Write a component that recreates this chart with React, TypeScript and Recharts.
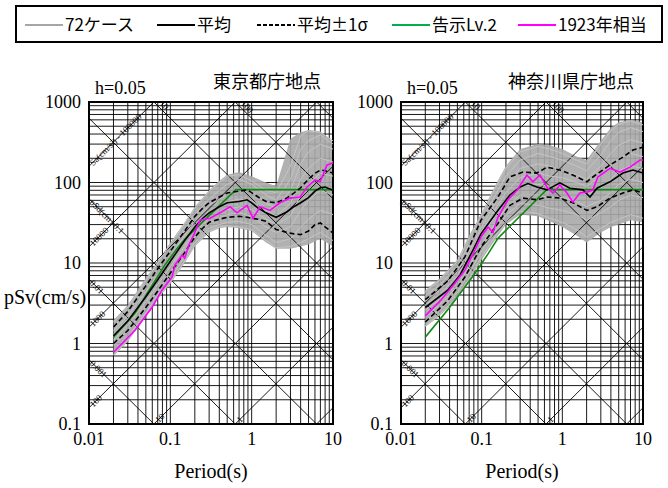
import React from 'react';
import { ComposedChart, Line, Area, XAxis, YAxis, CartesianGrid, ReferenceArea, ReferenceDot } from 'recharts';

const fontCss = `
#root svg text.sf, #root svg text.sf tspan { font-family: "Liberation Serif", "Times New Roman", serif !important; }
#root svg text.jp { font-family: "Noto Sans CJK JP", sans-serif !important; }
`;

// log grid ticks
const mult = [1, 2, 3, 4, 5, 6, 7, 8, 9];
const xDecades = [0.01, 0.1, 1, 10];
const yDecades = [0.1, 1, 10, 100, 1000];
const xTickLabels = ['0.01', '0.1', '1', '10'];
const yTickLabels = ['0.1', '1', '10', '100', '1000'];
const xTicks = [...xDecades.slice(0, -1).flatMap((d) => mult.map((m) => +(m * d).toPrecision(3))), 10];
const yTicks = [...yDecades.slice(0, -1).flatMap((d) => mult.map((m) => +(m * d).toPrecision(3))), 1000];

// tripartite diagonals (Sa in cm/s2, Sd in cm)
const saValues = [0.1, 1, 10, 100, 1000, 10000, 100000];
const sdValues = [0.001, 0.01, 0.1, 1, 10, 100, 1000];
const saEdgeLabels = [
  { sa: 100000, text: 'Sa(cm/s²) - 100000' },
  { sa: 10000, text: '10000' },
  { sa: 1000, text: '1000' },
  { sa: 100, text: '100' },
];
const sdEdgeLabels = [
  { sd: 0.1, text: 'pSd(cm)  0.1' },
  { sd: 0.01, text: '0.01' },
  { sd: 0.001, text: '0.001' },
];
const saBottomLabels = [
  { sa: 10, text: '10' },
  { sa: 1, text: '1' },
];
const sdTopLabels = [
  { sd: 10, text: '10' },
  { sd: 100, text: '100' },
];

// 東京都庁地点
const tokyoCaseT = [0.02, 0.03, 0.05, 0.07, 0.1, 0.15, 0.2, 0.3, 0.4, 0.5, 0.7, 1, 1.5, 2, 3, 4, 5, 7, 10];
const tokyoCases = [
  [1.85, 2.8, 6.0, 10, 17, 31, 48, 78, 100, 120, 125, 105, 80, 75, 160, 380, 440, 420, 330],
  [1.6, 2.45, 5.0, 8.4, 14, 26, 40, 62, 80, 95, 110, 95, 70, 60, 110, 260, 330, 390, 300],
  [1.45, 2.2, 4.4, 7.2, 12, 22, 33, 52, 62, 72, 82, 78, 55, 48, 80, 170, 240, 300, 260],
  [1.3, 2.0, 3.9, 6.4, 10.5, 19, 29, 44, 50, 58, 62, 60, 45, 38, 55, 110, 150, 200, 180],
  [1.1, 1.7, 3.3, 5.4, 9, 16, 24, 36, 42, 46, 50, 46, 35, 30, 38, 70, 95, 130, 120],
  [0.95, 1.45, 2.8, 4.6, 7.6, 14, 21, 31, 36, 40, 42, 38, 28, 24, 28, 45, 60, 80, 70],
  [0.8, 1.2, 2.4, 4.0, 6.4, 12, 18, 27, 30, 32, 33, 30, 22, 18, 20, 28, 35, 45, 40],
  [0.72, 1.1, 2.25, 3.7, 5.8, 10.5, 16.5, 25, 28, 29, 28, 26, 19, 15.5, 16, 18, 20, 24, 19],
];
const tokyoLow = [0.7, 1.05, 2.2, 3.6, 5.5, 10, 16, 24, 27, 28, 27, 25, 18, 15, 15, 16, 17, 20, 16];
const tokyoHigh = [1.95, 3.0, 6.5, 10.5, 18, 32, 50, 80, 105, 125, 135, 120, 100, 90, 350, 420, 450, 430, 320];
const tokyoStatT = [0.02, 0.03, 0.05, 0.07, 0.1, 0.15, 0.2, 0.25, 0.3, 0.4, 0.5, 0.7, 0.88, 1.0, 1.2, 1.5, 2, 2.7, 3.3, 4, 5, 6, 7, 8, 10];
const tokyoMean = [1.25, 1.9, 3.8, 6.2, 10.5, 19, 28, 36, 42, 50, 56, 58, 61, 56, 48, 42, 37, 43, 50, 56, 65, 78, 86, 88, 80];
const tokyoUpper = [1.6, 2.5, 5.2, 8.5, 14, 25, 38, 48, 56, 66, 74, 78, 81, 75, 66, 58, 56, 64, 74, 86, 110, 130, 143, 140, 131];
const tokyoLower = [1.0, 1.45, 2.8, 4.5, 7.5, 13.5, 21, 27, 32, 35, 37, 38, 37, 36, 35, 33, 26, 24, 23, 22.5, 25, 30, 31.5, 28, 23.6];
const tokyo1923T = [0.02, 0.037, 0.06, 0.079, 0.105, 0.114, 0.139, 0.15, 0.17, 0.2, 0.232, 0.308, 0.408, 0.542, 0.66, 0.877, 1.04, 1.27, 1.68, 2.23, 2.96, 3.94, 4.8, 6.02, 6.94, 8.46, 10];
const tokyo1923 = [0.78, 1.47, 2.84, 4.6, 6.7, 9.4, 12.5, 11.5, 17, 24, 34, 36, 42, 50, 42, 52, 36, 50, 45, 56, 64, 66, 88, 108, 102, 165, 175];
const tokyoLv2T = [0.02, 0.037, 0.06, 0.086, 0.12, 0.16, 0.64, 10];
const tokyoLv2 = [1.2, 2.4, 5.3, 9.5, 15, 21, 81.5, 81.5];

// 神奈川県庁地点
const kanaCaseT = [0.02, 0.03, 0.05, 0.07, 0.1, 0.15, 0.2, 0.3, 0.5, 0.7, 1, 1.5, 2, 3, 4, 5, 7, 10];
const kanaCases = [
  [4.4, 6.1, 10.5, 20, 40, 88, 150, 240, 280, 260, 230, 190, 170, 300, 440, 530, 580, 520],
  [3.9, 5.3, 9, 17, 34, 72, 120, 190, 230, 210, 190, 160, 140, 220, 330, 420, 480, 430],
  [3.4, 4.6, 7.8, 14, 28, 58, 95, 150, 170, 160, 140, 125, 110, 160, 230, 290, 340, 310],
  [3.0, 4.0, 6.9, 12.5, 25, 48, 75, 115, 130, 120, 115, 100, 90, 120, 160, 200, 230, 210],
  [2.6, 3.5, 6, 10.5, 21, 40, 60, 90, 95, 90, 90, 80, 70, 85, 110, 140, 160, 150],
  [2.2, 3.0, 5.1, 9, 17, 32, 48, 70, 70, 65, 65, 58, 50, 60, 75, 95, 110, 100],
  [1.9, 2.6, 4.3, 7.5, 14, 26, 39, 55, 52, 48, 45, 40, 34, 42, 50, 60, 70, 65],
  [1.65, 2.3, 3.8, 6.4, 12, 22, 32, 44, 41, 36, 32, 26, 21, 27, 32, 35, 40, 36],
];
const kanaLow = [1.6, 2.2, 3.6, 6, 11, 20, 30, 40, 38, 33, 28, 22, 18, 24, 28, 30, 34, 32];
const kanaHigh = [4.6, 6.4, 11, 22, 42, 95, 160, 260, 300, 290, 260, 210, 190, 330, 480, 560, 600, 560];
const kanaMeanT = [0.02, 0.038, 0.054, 0.078, 0.098, 0.159, 0.224, 0.3, 0.375, 0.484, 0.644, 0.933, 1.24, 1.8, 2.2, 2.69, 3.89, 5.64, 7.5, 10];
const kanaMean = [2.8, 4.6, 7.1, 14.5, 23, 45, 70, 88, 97, 88, 81, 99, 85, 81, 66, 85, 102, 131, 143, 131];
const kanaUpperT = [0.02, 0.038, 0.062, 0.098, 0.159, 0.224, 0.325, 0.484, 0.644, 0.933, 1.35, 2.02, 2.39, 3.89, 5.64, 7.5, 10];
const kanaUpper = [3.5, 6, 11.9, 34, 66, 117, 135, 131, 155, 143, 124, 102, 117, 165, 207, 253, 275];
const kanaLowerT = [0.02, 0.038, 0.062, 0.098, 0.159, 0.224, 0.325, 0.484, 0.644, 0.933, 1.35, 2.02, 2.69, 3.89, 5.64, 7.5, 10];
const kanaLower = [1.85, 3.4, 6.7, 15.8, 31, 52, 64, 61, 66, 64, 56, 45, 50, 64, 74, 81, 74];
const kana1923T = [0.02, 0.0313, 0.0467, 0.062, 0.0826, 0.098, 0.12, 0.138, 0.159, 0.212, 0.274, 0.364, 0.432, 0.528, 0.644, 0.765, 0.933, 1.14, 1.35, 1.65, 2.02, 2.39, 2.76, 3.89, 5.17, 6.89, 9.2, 10];
const kana1923 = [2.2, 3.47, 5.65, 8.2, 14.5, 21, 28, 24, 37, 61, 80, 124, 102, 124, 88, 74, 93, 74, 57, 74, 76, 81, 117, 150, 135, 155, 190, 190];
const kanaLv2T = [0.02, 0.04, 0.08, 0.12, 0.16, 0.64, 10];
const kanaLv2 = [1.2, 2.8, 7.1, 13, 20.4, 81.5, 81.5];

const T_MIN = 0.01, T_MAX = 10, V_MIN = 0.1, V_MAX = 1000;
const TWO_PI = 2 * Math.PI;

const pts = (t: number[], v: number[]) => t.map((T, i) => ({ T, v: v[i] }));

function saSegment(sa: number) {
  const k = sa / TWO_PI;
  const a = Math.max(T_MIN, V_MIN / k);
  const b = Math.min(T_MAX, V_MAX / k);
  return a < b ? [{ T: a, v: k * a }, { T: b, v: k * b }] : null;
}
function sdSegment(sd: number) {
  const k = TWO_PI * sd;
  const a = Math.max(T_MIN, k / V_MAX);
  const b = Math.min(T_MAX, k / V_MIN);
  return a < b ? [{ T: a, v: k / a }, { T: b, v: k / b }] : null;
}
const diagonals = [...saValues.map(saSegment), ...sdValues.map(sdSegment)].filter(Boolean) as { T: number; v: number }[][];

const labelOf = (decades: number[], labels: string[], v: number) => {
  const i = decades.findIndex((d) => Math.abs(v - d) < d * 1e-6);
  return i >= 0 ? labels[i] : '';
};

const XTick = (p: any) => (
  <text className="sf" x={p.x} y={p.y} dy="0.71em" textAnchor="middle" fontSize={18} fill="#000" fontFamily="Liberation Serif">
    {labelOf(xDecades, xTickLabels, p.payload.value)}
  </text>
);
const YTick = (p: any) => (
  <text className="sf" x={p.x} y={p.y} dy="0.355em" textAnchor="end" fontSize={18} fill="#000" fontFamily="Liberation Serif">
    {labelOf(yDecades, yTickLabels, p.payload.value)}
  </text>
);

const diagText = (text: string, angle: number, dx: number, dy: number) => (p: any) => (
  <g transform={`translate(${p.cx} ${p.cy}) rotate(${angle})`}>
    <text className="sf" x={dx} y={dy} fontSize={9} fill="#000" stroke="none" fontFamily="Liberation Serif">
      {text}
    </text>
  </g>
);

function Panel({ site, width, margin }: any) {
  const band = site.caseT.map((T: number, i: number) => ({ T, band: [site.low[i], site.high[i]] }));
  return (
    <ComposedChart width={width} height={488} margin={margin}>
      <CartesianGrid stroke="#000" strokeWidth={0.9} />
      <XAxis
        dataKey="T"
        type="number"
        scale="log"
        domain={[T_MIN, T_MAX]}
        ticks={xTicks}
        interval={0}
        allowDataOverflow
        tickLine={false}
        axisLine={false}
        tick={XTick}
        height={30}
      />
      <YAxis
        type="number"
        scale="log"
        domain={[V_MIN, V_MAX]}
        ticks={yTicks}
        interval={0}
        allowDataOverflow
        tickLine={false}
        axisLine={false}
        tick={YTick}
        width={60}
      />
      {diagonals.map((seg, i) => (
        <Line key={'d' + i} data={seg} dataKey="v" stroke="#000" strokeWidth={0.9} dot={false} activeDot={false} isAnimationActive={false} />
      ))}
      <Area data={band} dataKey="band" stroke="none" fill="#a8a8a8" fillOpacity={0.9} isAnimationActive={false} />
      {site.cases.map((c: number[], i: number) => (
        <Line key={'c' + i} data={pts(site.caseT, c)} dataKey="v" stroke="#c4c4c4" strokeWidth={1} dot={false} activeDot={false} isAnimationActive={false} />
      ))}
      <Line data={pts(site.lv2T, site.lv2)} dataKey="v" stroke="#138a13" strokeWidth={1.6} dot={false} activeDot={false} isAnimationActive={false} />
      <Line data={pts(site.lowerT, site.lower)} dataKey="v" stroke="#000" strokeWidth={1.6} strokeDasharray="5 3" dot={false} activeDot={false} isAnimationActive={false} />
      <Line data={pts(site.upperT, site.upper)} dataKey="v" stroke="#000" strokeWidth={1.6} strokeDasharray="5 3" dot={false} activeDot={false} isAnimationActive={false} />
      <Line data={pts(site.meanT, site.mean)} dataKey="v" stroke="#000" strokeWidth={1.6} dot={false} activeDot={false} isAnimationActive={false} />
      <Line data={pts(site.m1923T, site.m1923)} dataKey="v" stroke="#ff00ff" strokeWidth={1.6} dot={false} activeDot={false} isAnimationActive={false} />
      {saEdgeLabels.map((l) => (
        <ReferenceDot key={'sa' + l.sa} x={0.0104} y={(l.sa * 0.0104) / TWO_PI} r={1} shape={diagText(l.text, -45, 1, 3)} />
      ))}
      {sdEdgeLabels.map((l) => (
        <ReferenceDot key={'sd' + l.sd} x={0.0104} y={(TWO_PI * l.sd) / 0.0104} r={1} shape={diagText(l.text, 45, 1, 3)} />
      ))}
      {saBottomLabels.map((l) => (
        <ReferenceDot key={'sb' + l.sa} x={(TWO_PI * 0.104) / l.sa} y={0.104} r={1} shape={diagText(l.text, -45, 2, 3)} />
      ))}
      {sdTopLabels.map((l) => (
        <ReferenceDot key={'st' + l.sd} x={(TWO_PI * l.sd) / 960} y={960} r={1} shape={diagText(l.text, 45, 3, -2)} />
      ))}
      <ReferenceArea x1={T_MIN} x2={T_MAX} y1={V_MIN} y2={V_MAX} fill="none" stroke="#000" strokeWidth={2} ifOverflow="visible" />
    </ComposedChart>
  );
}

const tokyo = {
  caseT: tokyoCaseT, cases: tokyoCases, low: tokyoLow, high: tokyoHigh,
  meanT: tokyoStatT, mean: tokyoMean, upperT: tokyoStatT, upper: tokyoUpper, lowerT: tokyoStatT, lower: tokyoLower,
  m1923T: tokyo1923T, m1923: tokyo1923, lv2T: tokyoLv2T, lv2: tokyoLv2,
};
const kanagawa = {
  caseT: kanaCaseT, cases: kanaCases, low: kanaLow, high: kanaHigh,
  meanT: kanaMeanT, mean: kanaMean, upperT: kanaUpperT, upper: kanaUpper, lowerT: kanaLowerT, lower: kanaLower,
  m1923T: kana1923T, m1923: kana1923, lv2T: kanaLv2T, lv2: kanaLv2,
};

const legendItems = [
  { label: '72ケース', color: '#a6a6a6', dash: undefined, x: 25 },
  { label: '平均', color: '#000', dash: undefined, x: 157 },
  { label: '平均±1σ', color: '#000', dash: '4 2', x: 257 },
  { label: '告示Lv.2', color: '#00b050', dash: undefined, x: 392 },
  { label: '1923年相当', color: '#ff00ff', dash: undefined, x: 518 },
];

export default function App() {
  return (
    <div style={{ position: 'absolute', left: 0, top: 0, width: 668, height: 488, background: '#fff' }}>
      <style>{fontCss}</style>
      <div style={{ position: 'absolute', left: 0, top: 0 }}>
        <Panel site={tokyo} width={360} margin={{ top: 102, right: 27, bottom: 34, left: 29 }} />
      </div>
      <div style={{ position: 'absolute', left: 340, top: 0 }}>
        <Panel site={kanagawa} width={328} margin={{ top: 102, right: 25, bottom: 34, left: 1 }} />
      </div>
      <svg width={668} height={488} style={{ position: 'absolute', left: 0, top: 0, pointerEvents: 'none' }}>
        <rect x={16} y={6} width={646} height={36} fill="#fff" stroke="#000" strokeWidth={2} />
        {legendItems.map((it) => (
          <g key={it.label}>
            <line x1={it.x} x2={it.x + 38} y1={25} y2={25} stroke={it.color} strokeWidth={2.2} strokeDasharray={it.dash} />
            <text className="jp" x={it.x + 40} y={31} fontSize={17} fill="#000" fontFamily="Noto Sans CJK JP">
              {it.label}
            </text>
          </g>
        ))}
        <text className="sf" x={95} y={94} fontSize={18} fontFamily="Liberation Serif">h=0.05</text>
        <text className="jp" x={213} y={88} fontSize={18} fontFamily="Noto Sans CJK JP">東京都庁地点</text>
        <text className="sf" x={407} y={94} fontSize={18} fontFamily="Liberation Serif">h=0.05</text>
        <text className="jp" x={508} y={88} fontSize={18} fontFamily="Noto Sans CJK JP">神奈川県庁地点</text>
        <text className="sf" x={4} y={304} fontSize={20} fontFamily="Liberation Serif">pSv(cm/s)</text>
        <text className="sf" x={211} y={478} fontSize={20} textAnchor="middle" fontFamily="Liberation Serif">Period(s)</text>
        <text className="sf" x={522} y={478} fontSize={20} textAnchor="middle" fontFamily="Liberation Serif">Period(s)</text>
      </svg>
    </div>
  );
}
